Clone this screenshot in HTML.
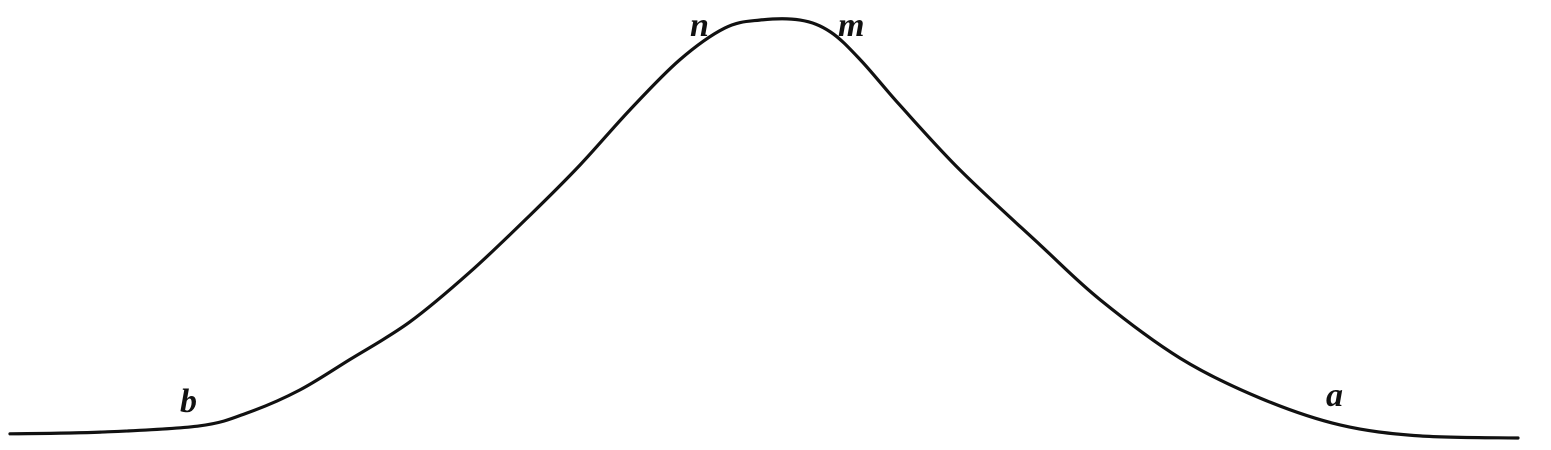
<!DOCTYPE html>
<html>
<head>
<meta charset="utf-8">
<style>
html,body{margin:0;padding:0;background:#fff;width:1551px;height:450px;overflow:hidden}
svg{display:block}
text{font-family:"Liberation Serif",serif;font-style:italic;font-weight:bold;font-size:34px;fill:#111}
</style>
</head>
<body>
<svg id="chart" width="1551" height="450" viewBox="0 0 1551 450">
  <path id="curve" fill="none" stroke="#111" stroke-width="3.2" stroke-linejoin="round" stroke-linecap="round"/>
  <text id="label-n" x="690" y="36">n</text>
  <text id="label-m" x="838" y="36">m</text>
  <text id="label-b" x="180" y="412">b</text>
  <text id="label-a" x="1326" y="406">a</text>
</svg>
<script>
const xValues = [0, 6, 12.6, 15.9, 19.2, 22.5, 26.5, 30.5, 34.5, 37.8, 41.1, 44.4, 47.4, 49.7, 52.4, 54.4, 56.4, 59, 63, 68.3, 72.3, 77.6, 82.9, 88.2, 93.5, 100];
const yValues = [1, 1.4, 2.9, 6.2, 11.4, 18.6, 27.6, 39.5, 53.1, 65, 78.1, 90, 97.6, 99.5, 99.5, 96.7, 90, 79.3, 63.8, 46, 32.9, 19, 9.5, 3.1, 0.5, 0];

function xScale(v){ return 10 + v * 15.08; }
function yScale(v){ return 438 - v * 4.2; }

const pts = xValues.map((x,i)=>[xScale(x), yScale(yValues[i])]);
let d = 'M' + pts[0][0] + ',' + pts[0][1];
for (let i = 0; i < pts.length - 1; i++) {
  const p0 = pts[Math.max(0,i-1)], p1 = pts[i], p2 = pts[i+1], p3 = pts[Math.min(pts.length-1,i+2)];
  const c1x = p1[0] + (p2[0]-p0[0])/6, c1y = p1[1] + (p2[1]-p0[1])/6;
  const c2x = p2[0] - (p3[0]-p1[0])/6, c2y = p2[1] - (p3[1]-p1[1])/6;
  d += ' C' + c1x + ',' + c1y + ' ' + c2x + ',' + c2y + ' ' + p2[0] + ',' + p2[1];
}
document.getElementById('curve').setAttribute('d', d);
</script>
</body>
</html>
